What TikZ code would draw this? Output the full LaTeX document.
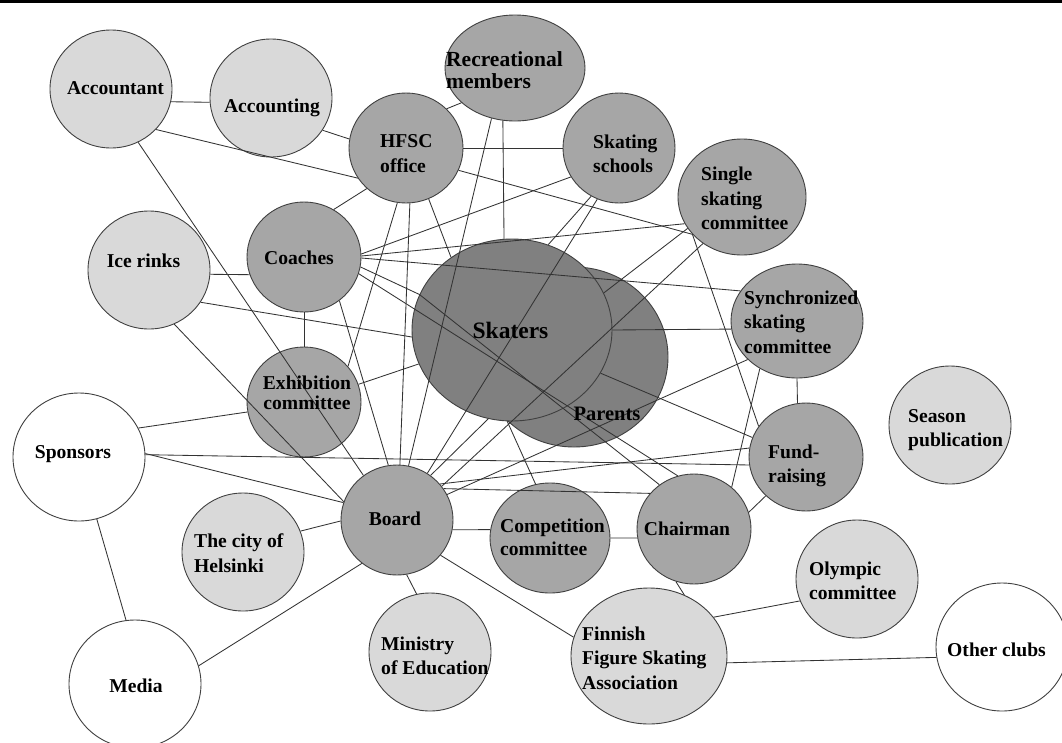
\documentclass[tikz,border=0pt]{standalone}
\usepackage{fontspec}
\setmainfont{Liberation Serif}
\usetikzlibrary{shapes.geometric}
\definecolor{lightc}{HTML}{D9D9D9}
\definecolor{medc}{HTML}{A6A6A6}
\definecolor{darkc}{HTML}{808080}
\definecolor{edgec}{HTML}{404040}
\definecolor{linec}{HTML}{333333}
\newcommand{\Lstack}[2]{\vtop{\baselineskip=#1pt\lineskiplimit=-100pt\halign{##\hfil\cr#2\crcr}}}
\newcommand{\Cstack}[2]{\vtop{\baselineskip=#1pt\lineskiplimit=-100pt\halign{\hfil##\hfil\cr#2\crcr}}}
\tikzset{
  bub/.style 2 args={ellipse, draw=edgec, line width=0.9pt, inner sep=0pt, minimum width=2*#1, minimum height=2*#2},
  lite/.style={fill=lightc},
  med/.style={fill=medc},
  dark/.style={fill=darkc},
  wht/.style={fill=white},
  con/.style={draw=linec, line width=0.85pt},
  lbl/.style={font=\fontsize{19.6}{24}\selectfont\bfseries, inner sep=0pt, text=black},
}
\begin{document}
\begin{tikzpicture}[x=1pt,y=-1pt]
\useasboundingbox (0,0) rectangle (1062,742);
\fill[white] (0,0) rectangle (1062,742);
\fill[black] (0,0) rectangle (1062,3);

% bubbles
\node[bub={61}{59}, lite] (acct) at (111,89) {};
\node[bub={61}{59}, lite] (accg) at (271,98) {};
\node[bub={70}{53}, med] (recr) at (515,68) {};
\node[bub={57}{55}, med] (hfsc) at (406,148) {};
\node[bub={56}{55}, med] (schools) at (619,148) {};
\node[bub={64}{58}, med] (single) at (742,197) {};
\node[bub={57}{55}, med] (coaches) at (304,257) {};
\node[bub={61}{59}, lite] (ice) at (149,270) {};
\node[bub={57}{55}, med] (exhib) at (304,402) {};
\node[bub={66}{64}, wht] (spons) at (79,457) {};
\node[bub={94}{90}, dark] (parents) at (574,357) {};
\node[bub={100}{91}, dark] (skaters) at (512,330) {};
\node[bub={66}{57}, med] (synch) at (797,321) {};
\node[bub={61}{59}, lite] (season) at (950,425) {};
\node[bub={57}{54}, med] (fund) at (806,457) {};
\node[bub={56}{55}, med] (board) at (397,520) {};
\node[bub={61}{59}, lite] (city) at (243,552) {};
\node[bub={60}{55}, med] (comp) at (550,538) {};
\node[bub={57}{55}, med] (chair) at (694,529) {};
\node[bub={61}{59}, lite] (olymp) at (857,579) {};
\node[bub={66}{64}, wht] (other) at (1002,647) {};
\node[bub={78}{68}, lite] (ffsa) at (649,656) {};
\node[bub={61}{59}, lite] (minis) at (430,652) {};
\node[bub={66}{64}, wht] (media) at (135,684) {};

% connectors
\draw[con] (acct.-12) -- (accg.184);
\draw[con] (acct.-42) -- (hfsc.-148.5);
\draw[con] (accg.-32) -- (hfsc.171);
\draw[con] (acct.-63) -- (board.127);
\draw[con] (hfsc.44) -- (recr.-147.5);
\draw[con] (hfsc.0) -- (schools.180);
\draw[con] (hfsc.-134) -- (coaches.58);
\draw[con] (hfsc.-99) -- (exhib.39);
\draw[con] (hfsc.-86) -- (board.87);
\draw[con] (hfsc.-66) -- (skaters.130);
\draw[con] (hfsc.-23.5) -- (single.-143.7) -- (fund.147);
\draw[con] (recr.-115) -- (board.78.5);
\draw[con] (recr.-103) -- (skaters.95);
\draw[con] (schools.-149) -- (coaches.3);
\draw[con] (coaches.1) -- (single.-155.6);
\draw[con] (coaches.-1) -- (synch.152);
\draw[con] (coaches.-10) -- (skaters.159) -- (chair.128);
\draw[con] (coaches.-17.5) -- (chair.107);
\draw[con] (coaches.-90) -- (exhib.90);
\draw[con] (coaches.-51) -- (board.99.5);
\draw[con] (ice.-4.6) -- (coaches.-162.5);
\draw[con] (ice.-32) -- (skaters.184.6);
\draw[con] (ice.-65) -- (board.161.6);
\draw[con] (exhib.18) -- (skaters.200.5);
\draw[con] (spons.26.6) -- (exhib.190);
\draw[con] (spons.3.5) -- (board.162);
\draw[con] (spons.2) -- (fund.188);
\draw[con] (spons.-74) -- (media.98);
\draw[con] (city.20) -- (board.181);
\draw[con] (board.-10) -- (comp.172);
\draw[con] (comp.0) -- (chair.189);
\draw[con] (board.-80) -- (minis.103);
\draw[con] (board.-129) -- (media.16);
\draw[con] (board.-39) -- (ffsa.166.7);
\draw[con] (chair.-109) -- (ffsa.60);
\draw[con] (chair.17) -- (fund.-136.5);
\draw[con] (ffsa.31) -- (olymp.-159);
\draw[con] (ffsa.-5.5) -- (other.-171.4);
\draw[con] (synch.-90) -- (fund.99.5);
\draw[con] (synch.187) -- (skaters.0);
\draw[con] (synch.-128.5) -- (chair.48);
\draw[con] (synch.-142.5) -- (board.27);
\draw[con] (skaters.-26.6) -- (fund.160);
\draw[con] (skaters.-93) -- (comp.105.5);
\draw[con] (board.40) -- (fund.171);
\draw[con] (board.34) -- (chair.141);
\draw[con] (schools.-113) -- (board.57.5);
\draw[con] (schools.-120.6) -- (skaters.67.6);
\draw[con] (board.53) -- (skaters.-105);
\draw[con] (single.-150.6) -- (skaters.22.7);
\draw[con] (single.-130.5) -- (board.37);

% labels
\node[lbl, anchor=base] (t-acct) at (115.5,94) {Accountant};
\node[lbl, anchor=base] (t-accg) at (272,112) {Accounting};
\node[lbl, anchor=base west, font=\fontsize{21.5}{22}\selectfont\bfseries] (t-recr) at (446,66) {\Lstack{22}{Recreational\cr members}};
\node[lbl, anchor=base west] (t-hfsc) at (380,147) {\Lstack{25}{HFSC\cr office}};
\node[lbl, anchor=base west] (t-schools) at (593,148) {\Lstack{24}{Skating\cr schools}};
\node[lbl, anchor=base west] (t-single) at (701,180.5) {\Lstack{24.5}{Single\cr skating\cr committee}};
\node[lbl, anchor=base] (t-coaches) at (299,264) {Coaches};
\node[lbl, anchor=base] (t-ice) at (143.5,267) {Ice rinks};
\node[lbl, anchor=base] (t-exhib) at (307,389) {\Cstack{20}{Exhibition\cr committee}};
\node[lbl, anchor=base] (t-spons) at (73,458) {Sponsors};
\node[lbl, anchor=base, font=\fontsize{23.5}{24}\selectfont\bfseries] (t-skaters) at (510.5,338) {Skaters};
\node[lbl, anchor=base, font=\fontsize{20.5}{24}\selectfont\bfseries] (t-parents) at (607,420) {Parents};
\node[lbl, anchor=base west] (t-synch) at (744,304) {\Lstack{24.5}{Synchronized\cr skating\cr committee}};
\node[lbl, anchor=base west] (t-season) at (908,422) {\Lstack{24}{Season\cr publication}};
\node[lbl, anchor=base west] (t-fund) at (768,458) {\Lstack{24}{Fund-\cr raising}};
\node[lbl, anchor=base] (t-board) at (395,525) {Board};
\node[lbl, anchor=base west] (t-city) at (194,547) {\Lstack{25}{The city of\cr Helsinki}};
\node[lbl, anchor=base west] (t-comp) at (500,532) {\Lstack{23}{Competition\cr committee}};
\node[lbl, anchor=base] (t-chair) at (687,535) {Chairman};
\node[lbl, anchor=base west] (t-olymp) at (809,575) {\Lstack{24}{Olympic\cr committee}};
\node[lbl, anchor=base] (t-other) at (996.5,656) {Other clubs};
\node[lbl, anchor=base west] (t-ffsa) at (582,640) {\Lstack{24.5}{Finnish\cr Figure Skating\cr Association}};
\node[lbl, anchor=base west] (t-minis) at (381,650) {\Lstack{24}{Ministry\cr of Education}};
\node[lbl, anchor=base] (t-media) at (136,692) {Media};
\end{tikzpicture}
\end{document}
